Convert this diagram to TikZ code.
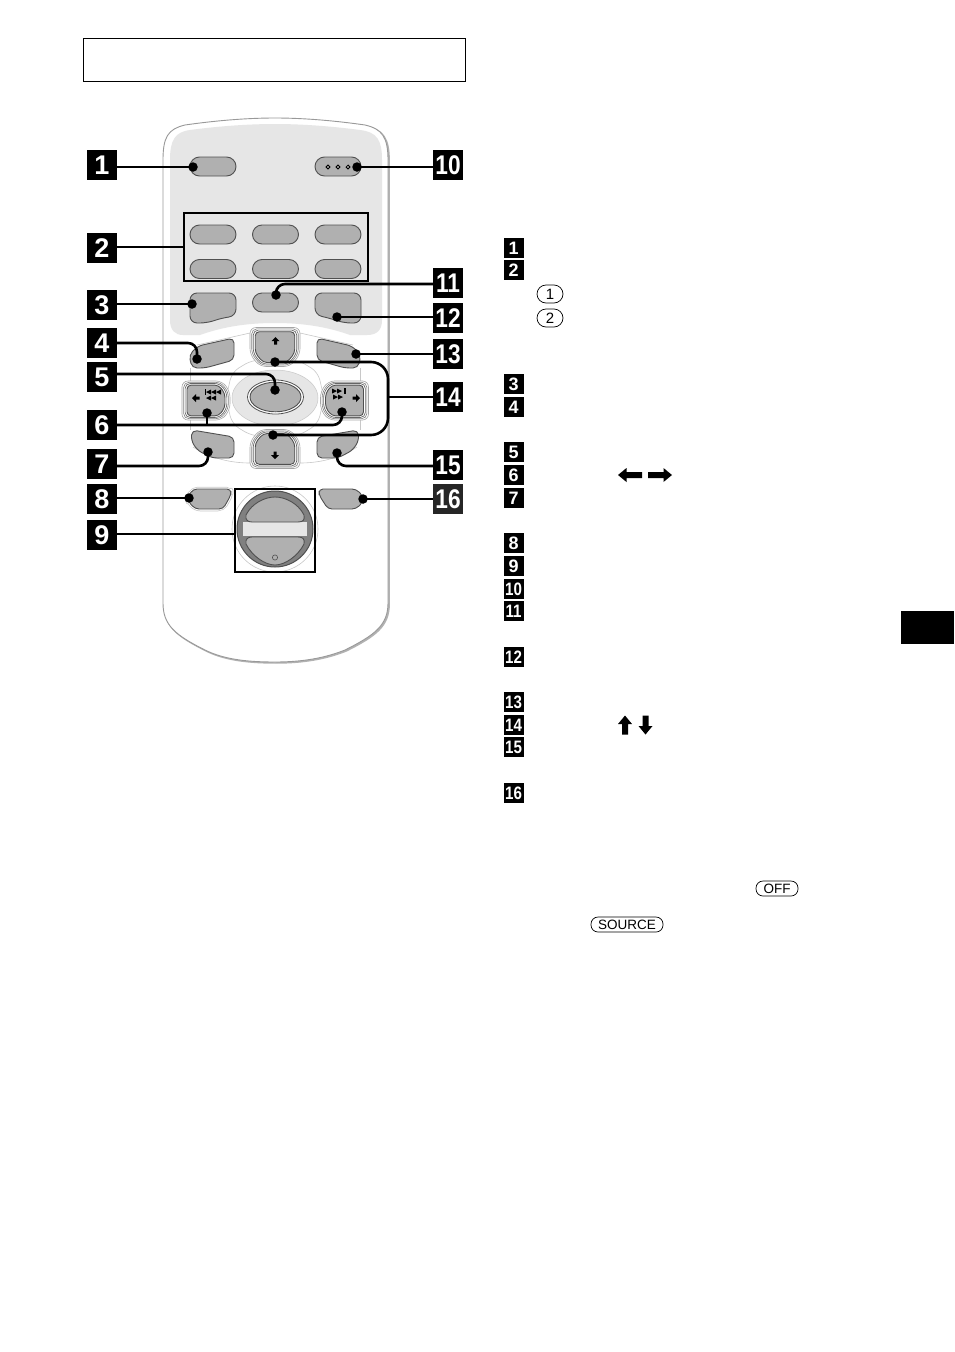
\documentclass[tikz,border=0pt]{standalone}
\usepackage{fontspec}
\usepackage{graphicx}
\setmainfont{Liberation Sans}
\definecolor{btn}{HTML}{B0B0B0}
\definecolor{btnline}{HTML}{505050}
\definecolor{panel}{HTML}{E6E6E6}
\definecolor{halo}{HTML}{C8C8C8}
\newcommand\lblbig{\fontsize{27}{27}\selectfont\bfseries}
\newcommand\lblsmall{\fontsize{18}{18}\selectfont\bfseries}
\newcommand\lblcap{\fontsize{13.5}{13.5}\selectfont}
\newcommand\nar[1]{\scalebox{.84}[1]{#1}}
\newcommand\upkey{(-25,-20)--(25,-20)--(25,7)--(15,19)--(-15,19)--(-25,7)--cycle}
\newcommand\sidekey{(-24,-19.5)--(16,-19.5)--(24,-9)--(24,9)--(16,19.5)--(-24,19.5)--cycle}
\newcommand\ringed[2]{%
  \begin{scope}[#1]
    \draw[gray!70,fill=white,line width=.6pt,rounded corners=6] #2;
    \draw[gray,fill=white,line width=.6pt,rounded corners=5,scale=.93] #2;
    \draw[gray!80!black,fill=white,line width=.7pt,rounded corners=5,scale=.87] #2;
    \draw[btnshape,rounded corners=4,scale=.79] #2;
  \end{scope}}
\newcommand\smarrow[3]{\fill[shift={(#1,#2)},rotate=#3] (0,-4)--(4,0)--(1.5,0)--(1.5,3.5)--(-1.5,3.5)--(-1.5,0)--(-4,0)--cycle;}
\newcommand\fatarrow[4]{\fill[shift={(#1,#2)},rotate=#3] (0,{-#4/2})--(7,{-#4/2+8.5})--(3,{-#4/2+8.5})--(3,{#4/2})--(-3,{#4/2})--(-3,{-#4/2+8.5})--(-7,{-#4/2+8.5})--cycle;}
\newcommand\trir[2]{\fill (#1,#2-2.5)--(#1+5,#2)--(#1,#2+2.5)--cycle;}
\newcommand\tril[2]{\fill (#1,#2-2.5)--(#1-5,#2)--(#1,#2+2.5)--cycle;}
\tikzset{
  btnshape/.style={draw=btnline,fill=btn,line width=.9pt},
  lead/.style={draw=black,line width=2.6pt},
  dotmark/.style={circle,fill=black,inner sep=0pt,minimum size=9.5pt},
  biglab/.style={rectangle,fill=black,text=white,inner sep=0pt,minimum size=30pt,font=\lblbig},
  smalllab/.style={rectangle,fill=black,text=white,inner sep=0pt,minimum size=20pt,font=\lblsmall},
  keycap/.style={draw=black,line width=.7pt,fill=white,rounded corners=7pt,inner sep=0pt,minimum height=15pt,font=\lblcap},
  framebox/.style={draw=black,line width=1.4pt}
}
\begin{document}
\begin{tikzpicture}[x=1pt,y=-1pt]
\useasboundingbox (0,0) rectangle (954,1352);
\fill[white] (0,0) rectangle (954,1352);
% header box and page tab
\draw[black,line width=.8pt] (83,38) rectangle (465,81);
\fill[black] (901,611) rectangle (954,644);
% remote body
\newcommand\bodypath{(163,160) .. controls (163,137) and (168,129) .. (185,125) .. controls (220,120) and (250,118) .. (275,118) .. controls (300,118) and (330,120) .. (365,125) .. controls (382,129) and (388,137) .. (388,160) -- (388,603) .. controls (388,625) and (375,635) .. (345,650) .. controls (320,660) and (295,662) .. (275,662) .. controls (250,662) and (225,660) .. (205,650) .. controls (175,635) and (163,625) .. (163,603) -- cycle}
\draw[fill=gray!60,draw=gray!60,line width=1.4pt,shift={(1.2,1)}] \bodypath;
\draw[fill=white,draw=gray!80,line width=.9pt] \bodypath;
\fill[panel] (170,160) .. controls (170,140) and (175,132) .. (190,130) .. controls (220,126) and (250,124) .. (275,124) .. controls (300,124) and (330,126) .. (360,130) .. controls (377,132) and (382,140) .. (382,160) -- (382,320) .. controls (382,330) and (377,335) .. (367,335) -- (350,335) .. controls (325,326) and (300,323) .. (275,323) .. controls (250,323) and (225,326) .. (200,335) -- (183,335) .. controls (175,335) and (170,330) .. (170,320) -- cycle;
% pills
\foreach \xa in {190,252.5,315}{
  \draw[btnshape,rounded corners=9.5] (\xa,225) rectangle ++(46,19);
  \draw[btnshape,rounded corners=9.5] (\xa,259.5) rectangle ++(46,19);
}
\draw[btnshape,rounded corners=9.5] (190,157) rectangle ++(46,19);
\draw[btnshape,rounded corners=9.5] (315,157) rectangle ++(46,19);
\draw[btnshape,rounded corners=9.5] (252.5,293) rectangle ++(46,19);
\foreach \xa in {328,338,348}{
  \draw[black,fill=white,line width=1pt] (\xa-1.8,167)--(\xa,165.2)--(\xa+1.8,167)--(\xa,168.8)--cycle;
}
\draw[btnshape,rounded corners=7] (190,293)--(236,293)--(236,316)--(222,318)--(207,323)--(190,323)--cycle;
\draw[btnshape,rounded corners=7] (361,293)--(315,293)--(315,315)--(329,318)--(344,323)--(361,323)--cycle;
% cluster outline
\draw[halo,line width=.6pt] (190,368)--(190,430);
\draw[halo,line width=.6pt] (360,368)--(360,430);
\draw[halo,line width=.6pt] (197,345)--(250,333);
\draw[halo,line width=.6pt] (353,345)--(300,333);
\draw[halo,line width=.6pt] (193,447) .. controls (210,458) and (230,463) .. (250,463);
\draw[halo,line width=.6pt] (357,447) .. controls (340,458) and (320,463) .. (300,463);
\draw[halo,fill=white,line width=.6pt,rounded corners=8] (252,360)--(232,372)--(226,398)--(232,424)--(252,436)--(298,436)--(318,424)--(324,398)--(318,372)--(298,360)--cycle;
\draw[halo,fill=panel,line width=.5pt] (275,398) ellipse [x radius=43,y radius=28];
\ringed{shift={(275,347.5)}}{\upkey}
\ringed{shift={(275,448.5)},yscale=-1}{\upkey}
\ringed{shift={(206,400.5)}}{\sidekey}
\ringed{shift={(344.5,400.5)},xscale=-1}{\sidekey}
\draw[btnline,fill=white,line width=.8pt] (275.5,397) ellipse [x radius=28,y radius=17];
\draw[btnshape] (275.5,397) ellipse [x radius=25.5,y radius=14.8];
% shoulder buttons
\draw[btnshape,rounded corners=5] (234,338)--(234,360)--(205,368)--(192,368)--(189,355)--(198,346)--cycle;
\draw[btnshape,rounded corners=5] (317,338)--(317,360)--(345,368)--(358,368)--(361,355)--(352,346)--cycle;
\draw[btnshape,rounded corners=5] (192,430)--(234,437)--(234,458)--(212,458)--(197,450)--(191,440)--cycle;
\draw[btnshape,rounded corners=5] (358,430)--(317,437)--(317,458)--(338,458)--(353,450)--(359,440)--cycle;
% glyphs
\smarrow{275.5}{341}{0}
\smarrow{275}{455}{180}
\smarrow{196}{398}{90}
\smarrow{356}{398}{-90}
\tril{211}{392}\tril{216}{392}\tril{221}{392}\fill (204.5,389) rectangle (206,395);
\tril{211}{398}\tril{216}{398}
\trir{332}{391}\trir{337}{391}\fill (344,388) rectangle (345.5,394);
\trir{333}{397}\trir{338}{397}
% lower buttons
\draw[halo,line width=4.5pt,rounded corners=5,line join=round] (188,497)--(193,489)--(231,489)--(231,495)--(223,509)--(195,509)--(188,501)--cycle;
\draw[white,line width=3pt,rounded corners=5,line join=round] (188,497)--(193,489)--(231,489)--(231,495)--(223,509)--(195,509)--(188,501)--cycle;
\draw[btnshape,rounded corners=4] (188,497)--(193,489)--(231,489)--(231,495)--(223,509)--(195,509)--(188,501)--cycle;
\draw[btnshape,rounded corners=4] (319,489)--(356,489)--(363,496)--(363,502)--(356,509)--(328,509)--(319,495)--cycle;
% dial
\draw[halo,line width=.6pt] (275,529) circle [radius=43];
\draw[draw=btnline,fill=gray,line width=1pt] (275,529) circle [radius=38];
\fill[panel] (243,522) rectangle (307,535.5);
\draw[btnshape] (304,515) .. controls (298,503) and (285,497) .. (275,497) .. controls (265,497) and (252,503) .. (246,515) .. controls (245,520) and (248,522) .. (252,522) -- (298,522) .. controls (303,522) and (305,520) .. (304,515) -- cycle;
\draw[btnshape] (304,544) .. controls (298,556) and (285,565) .. (275,565) .. controls (265,565) and (252,556) .. (246,544) .. controls (245,539) and (248,537) .. (252,537) -- (298,537) .. controls (303,537) and (305,539) .. (304,544) -- cycle;
\draw[btnline,fill=btn,line width=.6pt] (275,557.5) circle [radius=2.6];
% frames
\node[framebox,inner sep=0pt,minimum width=184pt,minimum height=68pt] (frameA) at (276,247) {};
\node[framebox,inner sep=0pt,minimum width=80pt,minimum height=83pt] (frameB) at (275,530.5) {};
% big labels
\node[biglab] (L1) at (102,165) {1};
\node[biglab] (L2) at (102,248) {2};
\node[biglab] (L3) at (102,305) {3};
\node[biglab] (L4) at (102,343) {4};
\node[biglab] (L5) at (102,377) {5};
\node[biglab] (L6) at (102,425) {6};
\node[biglab] (L7) at (102,464) {7};
\node[biglab] (L8) at (102,499) {8};
\node[biglab] (L9) at (102,535) {9};
\node[biglab] (L10) at (448,165) {\nar{10}};
\node[biglab] (L11) at (448,283) {\nar{11}};
\node[biglab] (L12) at (448,318) {\nar{12}};
\node[biglab] (L13) at (448,354) {\nar{13}};
\node[biglab] (L14) at (448,397) {\nar{14}};
\node[biglab] (L15) at (448,465) {\nar{15}};
\node[biglab,fill=black!85] (L16) at (448,499) {\nar{16}};
% leader ends
\node[dotmark] (d1) at (193,167) {};
\node[dotmark] (d3) at (192,304) {};
\node[dotmark] (d4) at (197,359) {};
\node[dotmark] (d5) at (275,390) {};
\node[dotmark] (d6a) at (207,413) {};
\node[dotmark] (d6b) at (342,412) {};
\node[dotmark] (d7) at (208,452) {};
\node[dotmark] (d8) at (189,498) {};
\node[dotmark] (d10) at (357,167) {};
\node[dotmark] (d11) at (276,295) {};
\node[dotmark] (d12) at (337,317) {};
\node[dotmark] (d13) at (356,354) {};
\node[dotmark] (d14a) at (275,362) {};
\node[dotmark] (d14b) at (273,435) {};
\node[dotmark] (d15) at (337,453) {};
\node[dotmark] (d16) at (363,499) {};
\coordinate (b14) at (388,397);
\coordinate (b6) at (207,425);
% connectors
\draw[lead] (L1.east |- d1) -- (d1.center);
\draw[lead] (L2.east |- frameA.west) -- (frameA.west);
\draw[lead] (L3.east |- d3) -- (d3.center);
\draw[lead,rounded corners=9] (L4.east) -| (d4.center);
\draw[lead,rounded corners=9] (L5.east |- 0,374) -| (d5.center);
\draw[lead,rounded corners=9] (L6.east |- b6) -| (d6b.center);
\draw[lead] (d6a.center) -- (b6);
\draw[lead,rounded corners=9] (L7.east |- 0,466) -| (d7.center);
\draw[lead] (L8.east |- d8) -- (d8.center);
\draw[lead] (L9.east |- 0,534) -- (frameB.west |- 0,534);
\draw[lead] (L10.west |- d10) -- (d10.center);
\draw[lead,rounded corners=9] (L11.west |- 0,284) -| (d11.center);
\draw[lead] (L12.west |- d12) -- (d12.center);
\draw[lead] (L13.west |- d13) -- (d13.center);
\draw[lead,rounded corners=17] (d14a.center) -| (b14) |- (d14b.center);
\draw[lead] (b14) -- (L14.west);
\draw[lead,rounded corners=9] (L15.west |- 0,466) -| (d15.center);
\draw[lead] (L16.west |- d16) -- (d16.center);
% index column
\foreach \n/\y in {1/248,2/270,3/384,4/407,5/452,6/475,7/498,8/543,9/566}{
  \node[smalllab] (s\n) at (513.5,\y) {\n};
}
\foreach \n/\y in {10/589,11/611,12/657,13/702,14/725,15/747,16/793}{
  \node[smalllab] (s\n) at (513.5,\y) {\nar{\n}};
}
% key caps
\node[keycap,minimum width=26pt,minimum height=18pt,rounded corners=9pt,font=\fontsize{15}{15}\selectfont] (k1) at (550,294) {1};
\node[keycap,minimum width=26pt,minimum height=18pt,rounded corners=9pt,font=\fontsize{15}{15}\selectfont] (k2) at (550,318) {2};
\node[keycap,minimum width=42pt] (kOff) at (777,888.5) {OFF};
\node[keycap,minimum width=72pt] (kSource) at (627,924.5) {SOURCE};
% arrows
\fatarrow{630}{475}{90}{24}
\fatarrow{660}{475}{-90}{24}
\fatarrow{625}{725}{0}{19}
\fatarrow{645.5}{725}{180}{19}
\end{tikzpicture}
\end{document}
